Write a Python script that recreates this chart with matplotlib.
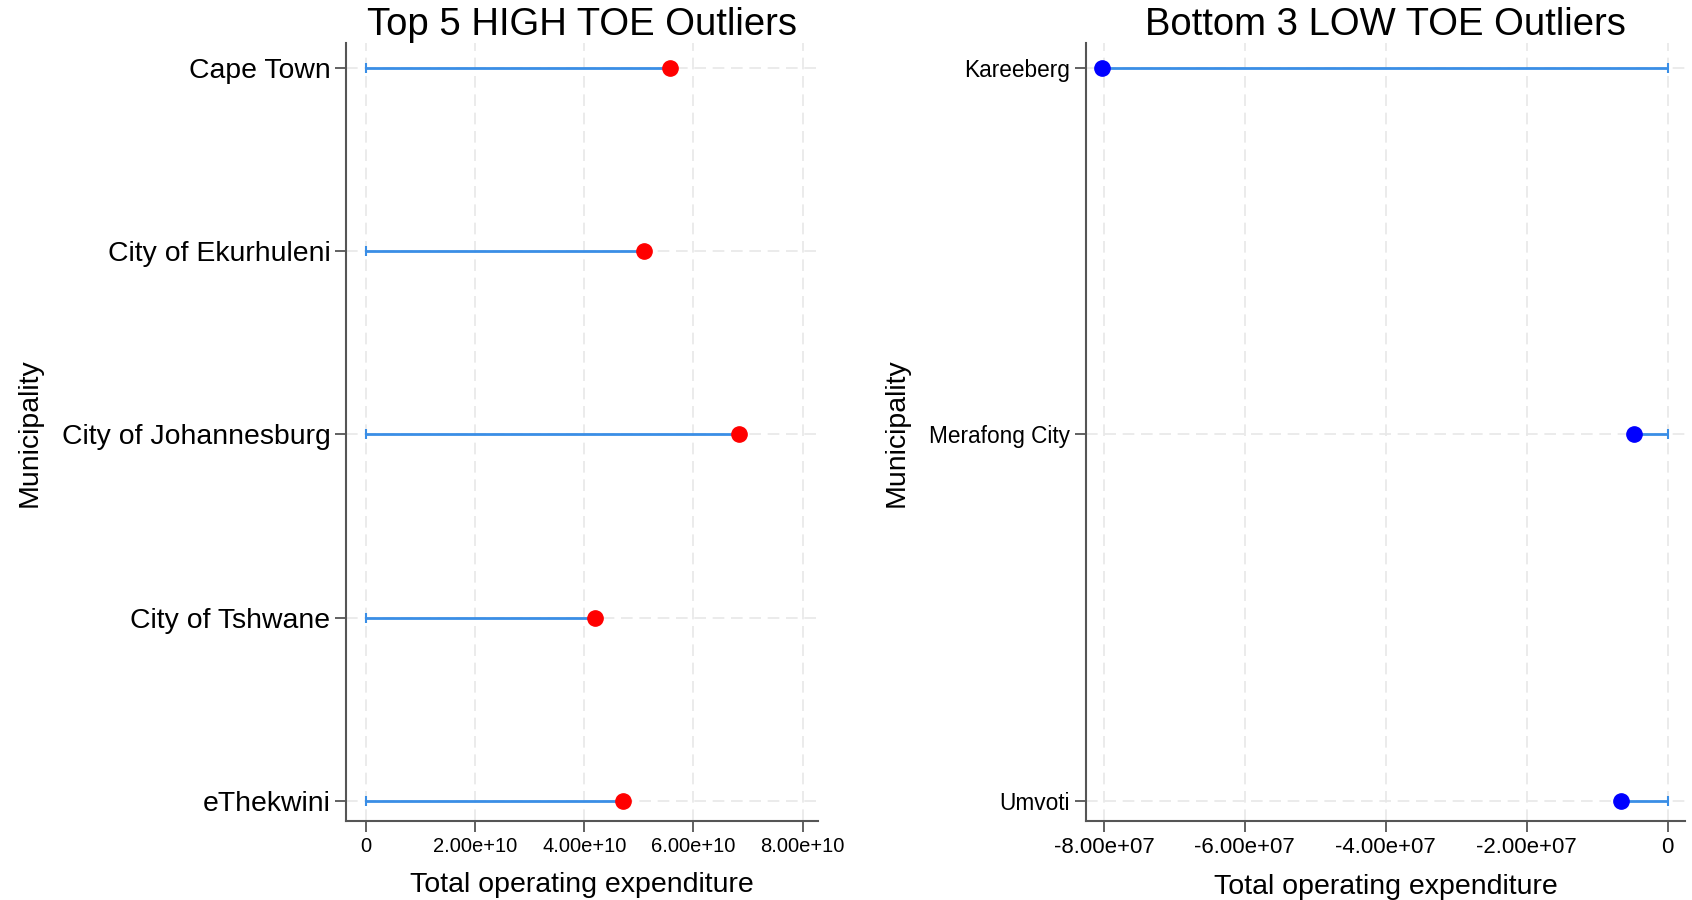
import matplotlib
matplotlib.use('Agg')
from matplotlib import pyplot as plt

plt.rcParams['font.family'] = ['Liberation Sans', 'DejaVu Sans']

high_names = ['Cape Town', 'City of Ekurhuleni', 'City of Johannesburg', 'City of Tshwane', 'eThekwini']
high_toe = [5.58e10, 5.09e10, 6.83e10, 4.20e10, 4.71e10]
high_ticks = [0, 2e10, 4e10, 6e10, 8e10]
high_tick_labels = ['0', '2.00e+10', '4.00e+10', '6.00e+10', '8.00e+10']

low_names = ['Kareeberg', 'Merafong City', 'Umvoti']
low_toe = [-8.02e7, -4.8e6, -6.6e6]
low_ticks = [-8e7, -6e7, -4e7, -2e7, 0]
low_tick_labels = ['-8.00e+07', '-6.00e+07', '-4.00e+07', '-2.00e+07', '0']

LINE_BLUE = '#3a8ee6'
GRID = '#e8e8e8'
SPINE = '#555555'


def lollipop(ax, names, values, dot_color, ticks, tick_labels, title,
             xlim, ysize, xsize, pad_top, pad_bot):
    ys = list(range(len(names)))
    ax.set_axisbelow(True)
    ax.grid(True, color=GRID, linestyle=(0, (7, 4)), linewidth=1.2)
    ax.hlines(ys, 0, values, color=LINE_BLUE, linewidth=2, zorder=2)
    ax.plot([0] * len(ys), ys, linestyle='none', marker='|', color=LINE_BLUE,
            markersize=7, markeredgewidth=1.5, zorder=2)
    ax.plot(values, ys, linestyle='none', marker='o', color=dot_color,
            markersize=11, zorder=3)
    ax.set_yticks(ys)
    ax.set_yticklabels(names, fontsize=ysize)
    ax.set_xticks(ticks)
    ax.set_xticklabels(tick_labels, fontsize=xsize)
    ax.set_xlim(*xlim)
    ax.set_ylim(len(ys) - 1 + pad_bot, -pad_top)
    ax.set_title(title, fontsize=27.5, pad=5)
    ax.set_xlabel('Total operating expenditure', fontsize=20.5, labelpad=11)
    ax.set_ylabel('Municipality', fontsize=20.5)
    for s in ['top', 'right']:
        ax.spines[s].set_visible(False)
    for s in ['left', 'bottom']:
        ax.spines[s].set_color(SPINE)
        ax.spines[s].set_linewidth(1.5)
    ax.tick_params(colors=SPINE, labelcolor='black', length=8, width=1.3)


fig = plt.figure(figsize=(16.92, 9), dpi=100)
ax1 = fig.add_axes([0.2047, 0.0875, 0.2787, 0.8645])
ax2 = fig.add_axes([0.6416, 0.0875, 0.3544, 0.8645])

lollipop(ax1, high_names, high_toe, '#ff0000', high_ticks, high_tick_labels,
         'Top 5 HIGH TOE Outliers', (-0.356e10, 8.28e10), 20.4, 14.5, 0.135, 0.112)
lollipop(ax2, low_names, low_toe, '#0000ff', low_ticks, low_tick_labels,
         'Bottom 3 LOW TOE Outliers', (-8.26e7, 0.25e7), 16.3, 16, 0.068, 0.056)

ax1.yaxis.set_label_coords(-0.645, 0.5)
ax2.yaxis.set_label_coords(-0.293, 0.5)

plt.savefig('out.png', dpi=100)
